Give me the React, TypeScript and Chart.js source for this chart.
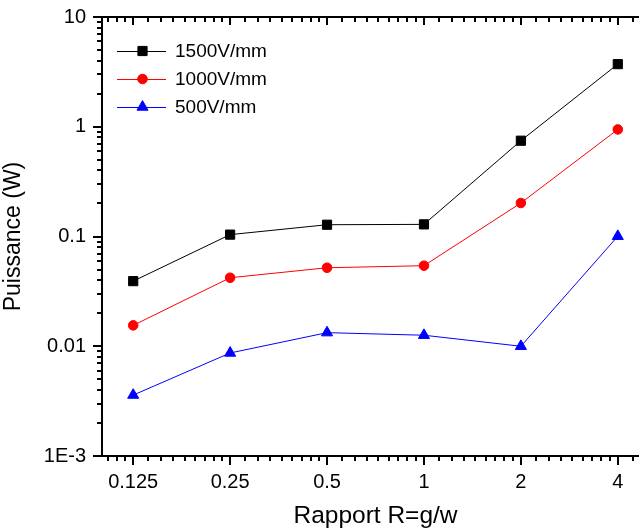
import React, { useEffect, useRef } from 'react';
import Chart from 'chart.js/auto';

// ---- data ----
const ratios = [0.125, 0.25, 0.5, 1, 2, 4];
const xTickLabels = ['0.125', '0.25', '0.5', '1', '2', '4'];
const p1500 = [0.0392, 0.104, 0.128, 0.129, 0.746, 3.72];
const p1000 = [0.0155, 0.0421, 0.0519, 0.0542, 0.202, 0.945];
const p500 = [0.00359, 0.00868, 0.0133, 0.0126, 0.01, 0.1005];
const yTickValues = [0.001, 0.01, 0.1, 1, 10];
const yTickLabels = ['1E-3', '0.01', '0.1', '1', '10'];
const seriesLabels = ['1500V/mm', '1000V/mm', '500V/mm'];
const xMin = 0.1;
const xMax = 5;
const yMin = 0.001;
const yMax = 10;

const FONT = '"Liberation Sans", Arial, sans-serif';

function drawMarker(ctx: CanvasRenderingContext2D, style: string, x: number, y: number, r: number, color: string) {
  ctx.save();
  ctx.fillStyle = color;
  ctx.strokeStyle = color;
  ctx.lineWidth = 1;
  ctx.beginPath();
  if (style === 'rect') {
    const s = r * Math.SQRT1_2;
    ctx.rect(x - s, y - s, 2 * s, 2 * s);
  } else if (style === 'circle') {
    ctx.arc(x, y, r, 0, Math.PI * 2);
  } else if (style === 'triangle') {
    let a = 0;
    ctx.moveTo(x + Math.sin(a) * r, y - Math.cos(a) * r);
    a += (2 * Math.PI) / 3;
    ctx.lineTo(x + Math.sin(a) * r, y - Math.cos(a) * r);
    a += (2 * Math.PI) / 3;
    ctx.lineTo(x + Math.sin(a) * r, y - Math.cos(a) * r);
    ctx.closePath();
  }
  ctx.fill();
  ctx.stroke();
  ctx.restore();
}

const axesPlugin = {
  id: 'originAxes',
  beforeDatasetsDraw(chart: any) {
    const { ctx, chartArea } = chart;
    const { left, right, top, bottom } = chartArea;
    const xs = chart.scales.x;
    const ys = chart.scales.y;
    ctx.save();
    ctx.strokeStyle = '#000';
    ctx.lineWidth = 2;
    ctx.lineCap = 'square';
    ctx.beginPath();
    ctx.moveTo(left, top);
    ctx.lineTo(right, top);
    ctx.moveTo(left, bottom);
    ctx.lineTo(right, bottom);
    ctx.moveTo(left, top);
    ctx.lineTo(left, bottom);
    ctx.moveTo(right, top);
    ctx.lineTo(right, bottom);
    ctx.stroke();

    ctx.lineCap = 'butt';
    // x ticks
    const xMinor: number[] = [];
    const starts = [ratios[0] / 2, ...ratios];
    starts.forEach((a) => {
      for (let k = 1; k <= 8; k++) {
        const v = a + (k * a) / 9;
        if (v > xMin && v < xMax) xMinor.push(v);
      }
    });
    ctx.beginPath();
    ratios.forEach((v) => {
      const px = Math.round(xs.getPixelForValue(v));
      ctx.moveTo(px, bottom);
      ctx.lineTo(px, bottom + 9);
      ctx.moveTo(px, top);
      ctx.lineTo(px, top + 8);
    });
    xMinor.forEach((v) => {
      const px = Math.round(xs.getPixelForValue(v));
      ctx.moveTo(px, bottom);
      ctx.lineTo(px, bottom + 5);
      ctx.moveTo(px, top);
      ctx.lineTo(px, top + 5);
    });
    // y ticks
    yTickValues.forEach((v) => {
      const py = Math.round(ys.getPixelForValue(v));
      ctx.moveTo(left, py);
      ctx.lineTo(left - 9, py);
    });
    yTickValues.slice(0, -1).forEach((d) => {
      for (let m = 2; m <= 9; m++) {
        const py = Math.round(ys.getPixelForValue(m * d));
        ctx.moveTo(left, py);
        ctx.lineTo(left - 5, py);
      }
    });
    ctx.stroke();
    ctx.restore();
  },
};

const legendPlugin = {
  id: 'originLegend',
  afterDraw(chart: any) {
    const { ctx, chartArea } = chart;
    const x0 = chartArea.left + 15;
    const y0 = chartArea.top + 34;
    chart.data.datasets.forEach((ds: any, i: number) => {
      const yy = y0 + i * 28;
      ctx.save();
      ctx.strokeStyle = ds.borderColor;
      ctx.lineWidth = 1;
      ctx.beginPath();
      ctx.moveTo(x0, yy + 0.5);
      ctx.lineTo(x0 + 49, yy + 0.5);
      ctx.stroke();
      drawMarker(ctx, ds.pointStyle, x0 + 25.5, yy, ds.pointRadius, ds.pointBackgroundColor);
      ctx.fillStyle = '#000';
      ctx.font = `19px ${FONT}`;
      ctx.textBaseline = 'middle';
      ctx.textAlign = 'left';
      ctx.fillText(ds.label, x0 + 58, yy + 1);
      ctx.restore();
    });
  },
};

export default function App() {
  const ref = useRef<HTMLCanvasElement | null>(null);
  useEffect(() => {
    if (!ref.current) return;
    const mk = (vals: number[]) => ratios.map((r, i) => ({ x: r, y: vals[i] }));
    const chart = new Chart(ref.current, {
      type: 'line',
      data: {
        datasets: [
          {
            label: seriesLabels[0],
            data: mk(p1500),
            borderColor: '#000000',
            backgroundColor: '#000000',
            pointBackgroundColor: '#000000',
            pointBorderColor: '#000000',
            pointStyle: 'rect',
            pointRadius: 6.5,
            pointBorderWidth: 1,
            borderWidth: 1,
          },
          {
            label: seriesLabels[1],
            data: mk(p1000),
            borderColor: '#ff0000',
            backgroundColor: '#ff0000',
            pointBackgroundColor: '#ff0000',
            pointBorderColor: '#ff0000',
            pointStyle: 'circle',
            pointRadius: 4.8,
            pointBorderWidth: 1,
            borderWidth: 1,
          },
          {
            label: seriesLabels[2],
            data: mk(p500),
            borderColor: '#0000ff',
            backgroundColor: '#0000ff',
            pointBackgroundColor: '#0000ff',
            pointBorderColor: '#0000ff',
            pointStyle: 'triangle',
            pointRadius: 6.4,
            pointBorderWidth: 1,
            borderWidth: 1,
          },
        ],
      },
      options: {
        responsive: false,
        animation: false,
        layout: { padding: { left: 0, right: 11, top: 17, bottom: 0 } },
        plugins: { legend: { display: false }, tooltip: { enabled: false } },
        scales: {
          x: {
            type: 'logarithmic',
            min: xMin,
            max: xMax,
            grid: { display: false, drawTicks: false },
            border: { display: false },
            afterBuildTicks: (s: any) => {
              s.ticks = ratios.map((v) => ({ value: v }));
            },
            afterFit: (s: any) => {
              s.height = 75;
              s.paddingLeft = 0;
              s.paddingRight = 0;
            },
            ticks: {
              autoSkip: false,
              maxRotation: 0,
              padding: 14,
              color: '#000',
              font: { family: FONT, size: 20 },
              callback: (_v: any, i: number) => xTickLabels[i],
            },
            title: {
              display: true,
              text: 'Rapport R=g/w',
              color: '#000',
              font: { family: FONT, size: 24.5 },
              padding: 0,
            },
          },
          y: {
            type: 'logarithmic',
            min: yMin,
            max: yMax,
            grid: { display: false, drawTicks: false },
            border: { display: false },
            afterBuildTicks: (s: any) => {
              s.ticks = yTickValues.map((v) => ({ value: v }));
            },
            afterFit: (s: any) => {
              s.width = 102;
              s.paddingTop = 0;
              s.paddingBottom = 0;
            },
            ticks: {
              autoSkip: false,
              padding: 16,
              color: '#000',
              font: { family: FONT, size: 20 },
              callback: (_v: any, i: number) => yTickLabels[i],
            },
            title: {
              display: true,
              text: 'Puissance (W)',
              color: '#000',
              font: { family: FONT, size: 23 },
              padding: 0,
            },
          },
        },
      },
      plugins: [axesPlugin, legendPlugin],
    });
    return () => chart.destroy();
  }, []);
  return (
    <div
      style={{
        position: 'fixed',
        left: 0,
        top: 0,
        width: 639,
        height: 531,
        overflow: 'hidden',
        background: '#fff',
      }}
    >
      <canvas ref={ref} width={660} height={531} style={{ display: 'block' }} />
    </div>
  );
}
